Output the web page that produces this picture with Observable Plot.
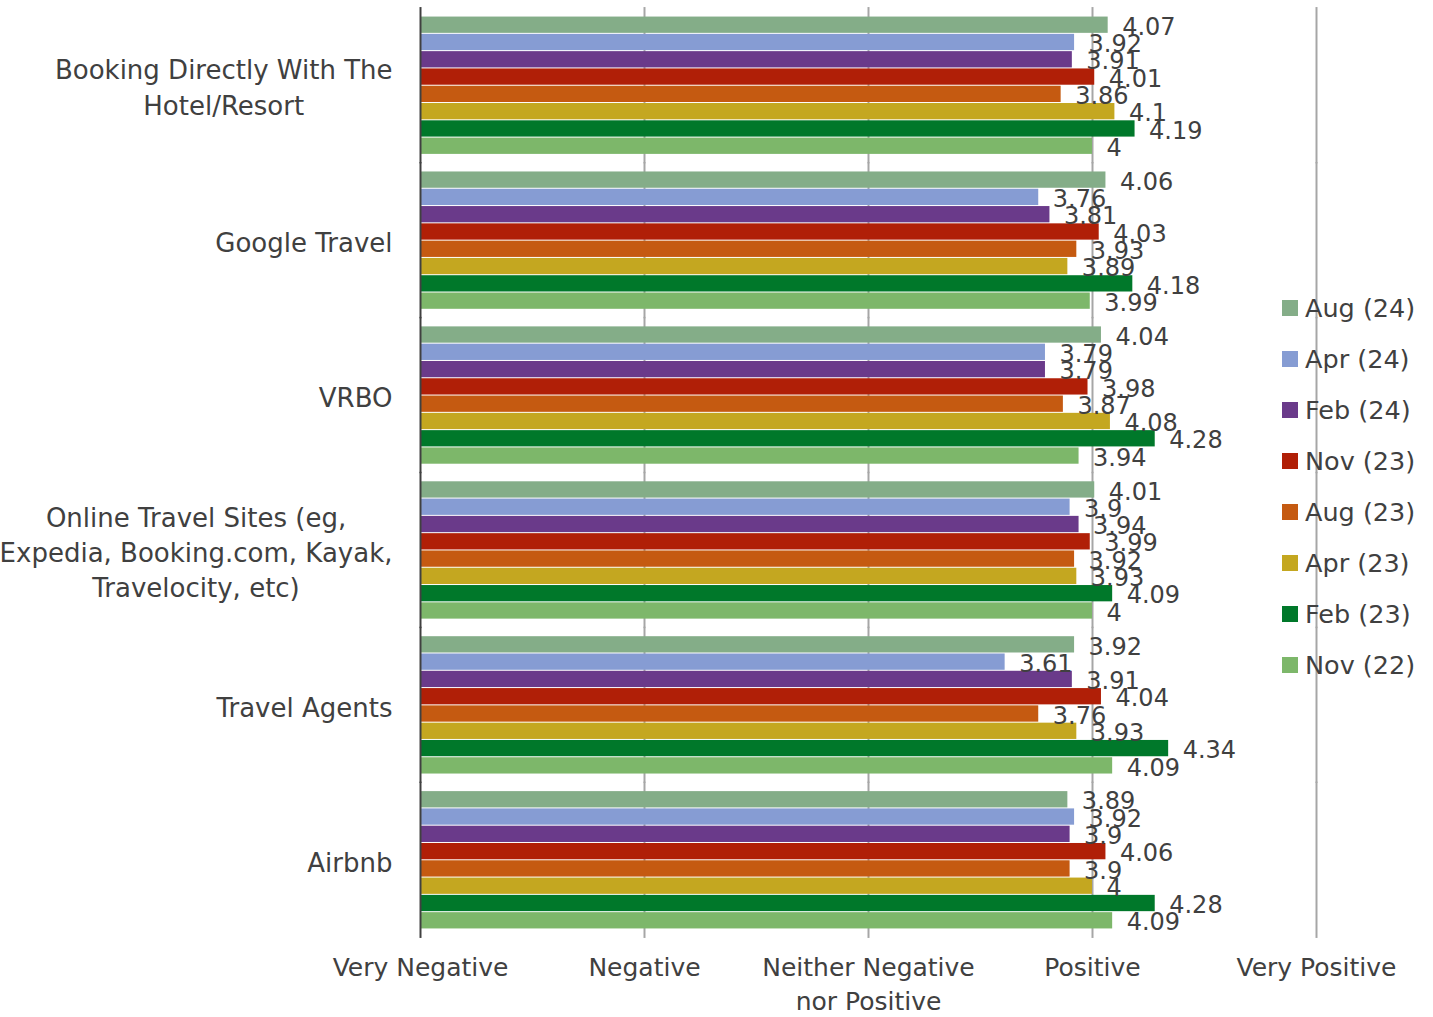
<!DOCTYPE html>
<html>
<head>
<meta charset="utf-8">
<script src="https://cdn.jsdelivr.net/npm/d3@7"></script>
<script src="https://cdn.jsdelivr.net/npm/@observablehq/plot@0.6"></script>
<style>
  html, body { margin: 0; padding: 0; background: #fff; }
  #wrap { position: relative; width: 1433px; height: 1017px; font-family: "DejaVu Sans", sans-serif; }
  #chart svg { display: block; }
  #legend { position: absolute; left: 1282px; top: 0; }
  .item { position: absolute; left: 0; white-space: nowrap; display: flex; align-items: center; font-size: 25.5px; color: #404040; }
  .sw { width: 16px; height: 16px; margin-right: 7px; }
</style>
</head>
<body>
<div id="wrap">
  <div id="chart"></div>
  <div id="legend"></div>
</div>
<script>
const categories = [
  "Booking Directly With The\nHotel/Resort",
  "Google Travel",
  "VRBO",
  "Online Travel Sites (eg,\nExpedia, Booking.com, Kayak,\nTravelocity, etc)",
  "Travel Agents",
  "Airbnb"
];
const series = ["Aug (24)", "Apr (24)", "Feb (24)", "Nov (23)", "Aug (23)", "Apr (23)", "Feb (23)", "Nov (22)"];
const colors = ["#84AD88", "#869CD3", "#6A3A8A", "#B01F07", "#C55A11", "#C4A720", "#00782A", "#7DB76A"];
const xTickLabels = ["Very Negative", "Negative", "Neither Negative\nnor Positive", "Positive", "Very Positive"];
const xTicks = [1, 2, 3, 4, 5];

// values per category, in series order
const bookingDirect = [4.07, 3.92, 3.91, 4.01, 3.86, 4.1, 4.19, 4];
const googleTravel  = [4.06, 3.76, 3.81, 4.03, 3.93, 3.89, 4.18, 3.99];
const vrbo          = [4.04, 3.79, 3.79, 3.98, 3.87, 4.08, 4.28, 3.94];
const onlineTravel  = [4.01, 3.9, 3.94, 3.99, 3.92, 3.93, 4.09, 4];
const travelAgents  = [3.92, 3.61, 3.91, 4.04, 3.76, 3.93, 4.34, 4.09];
const airbnb        = [3.89, 3.92, 3.9, 4.06, 3.9, 4, 4.28, 4.09];

const valueRows = [bookingDirect, googleTravel, vrbo, onlineTravel, travelAgents, airbnb];
const data = [];
categories.forEach((c, i) => {
  series.forEach((s, j) => data.push({category: c, series: s, value: valueRows[i][j]}));
});

const textColor = "#404040";

const chart = Plot.plot({
  width: 1433,
  height: 1017,
  marginLeft: 420,
  marginRight: 117,
  marginTop: 8,
  marginBottom: 80,
  style: {fontFamily: "DejaVu Sans, sans-serif", background: "#fff"},
  x: {domain: [1, 5], axis: null},
  y: {domain: series, padding: 0, round: false, axis: null},
  fy: {domain: categories, paddingInner: 0.107, paddingOuter: 0.052, round: false, axis: null},
  color: {domain: series, range: colors},
  marks: [
    Plot.ruleX(xTicks.slice(1), {stroke: "#A6A6A6", strokeWidth: 2, insetTop: -9, insetBottom: -9}),
    Plot.barX(data, {x1: 1, x2: "value", y: "series", fy: "category", fill: "series", insetTop: 0.5, insetBottom: 0.5}),
    Plot.ruleX([1], {stroke: textColor, strokeWidth: 2, insetTop: -9, insetBottom: -9}),
    Plot.text(data, {x: "value", y: "series", fy: "category", text: d => String(d.value),
      textAnchor: "start", dx: 14, dy: 2, fontSize: 24, fill: textColor}),
    Plot.axisFy({anchor: "left", tickSize: 0, tickPadding: 28, fontSize: 26, lineHeight: 1.35,
      label: null, textAnchor: "end", fill: textColor}),
    Plot.axisX({ticks: xTicks, tickFormat: v => xTickLabels[v - 1], tickSize: 0, tickPadding: 22,
      fontSize: 25, lineHeight: 1.36, label: null, fill: textColor})
  ]
});
document.getElementById("chart").appendChild(chart);

// center the lines of multi-line category labels within their block
chart.querySelectorAll('g[aria-label="fy-axis tick label"] text').forEach(t => {
  if (t.querySelectorAll("tspan").length > 1) {
    const w = t.getBBox().width;
    t.setAttribute("text-anchor", "middle");
    t.setAttribute("transform", (t.getAttribute("transform") || "") + ` translate(${-w / 2},0)`);
  }
});

// legend
const legend = document.getElementById("legend");
series.forEach((s, i) => {
  const item = document.createElement("div");
  item.className = "item";
  item.style.top = (308 - 15 + 51 * i) + "px";
  item.style.height = "30px";
  const sw = document.createElement("div");
  sw.className = "sw";
  sw.style.background = colors[i];
  const lab = document.createElement("span");
  lab.textContent = s;
  item.appendChild(sw);
  item.appendChild(lab);
  legend.appendChild(item);
});
</script>
</body>
</html>
